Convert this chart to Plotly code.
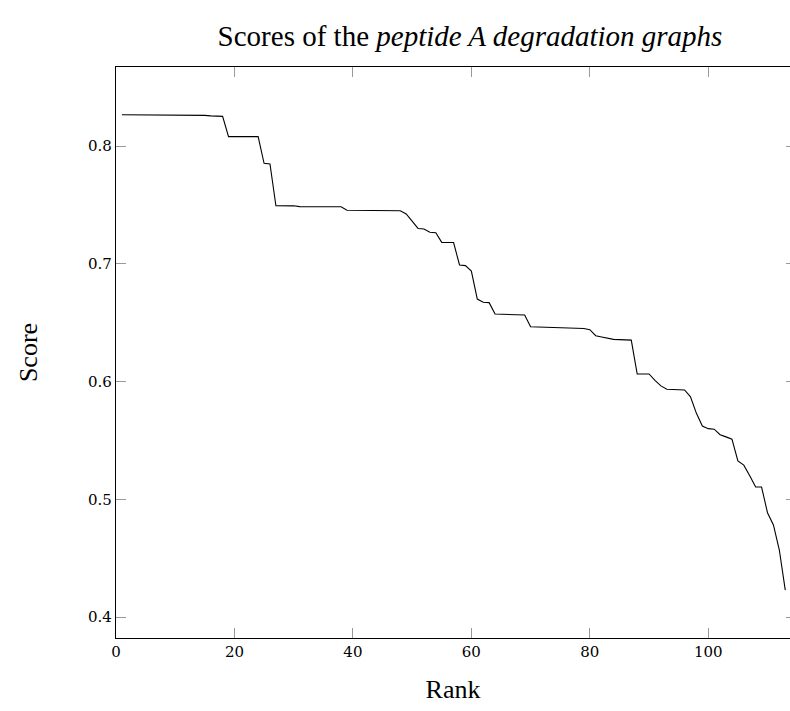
import plotly.graph_objects as go

rank = list(range(1, 114))
score = [
    0.8266, 0.8266, 0.8266, 0.8266, 0.8266, 0.8266, 0.8266, 0.8266, 0.8266, 0.8266,
    0.8266, 0.8266, 0.8264, 0.8262, 0.8260, 0.8256, 0.8253, 0.8252, 0.8080, 0.8080,
    0.8080, 0.8080, 0.8080, 0.8080, 0.7853, 0.7847, 0.7493, 0.7493, 0.7493, 0.7492,
    0.7485, 0.7485, 0.7485, 0.7485, 0.7485, 0.7485, 0.7485, 0.7484, 0.7455, 0.7454,
    0.7454, 0.7454, 0.7454, 0.7454, 0.7454, 0.7454, 0.7453, 0.7450, 0.7423, 0.7360,
    0.7300, 0.7295, 0.7267, 0.7264, 0.7182, 0.7181, 0.7180, 0.6990, 0.6984, 0.6938,
    0.6700, 0.6673, 0.6670, 0.6573, 0.6572, 0.6570, 0.6568, 0.6566, 0.6565, 0.6465,
    0.6464, 0.6463, 0.6462, 0.6461, 0.6460, 0.6459, 0.6458, 0.6457, 0.6450, 0.6440,
    0.6389, 0.6378, 0.6368, 0.6358, 0.6356, 0.6354, 0.6352, 0.6064, 0.6064, 0.6064,
    0.6010, 0.5963, 0.5934, 0.5932, 0.5930, 0.5928, 0.5870, 0.5730, 0.5622, 0.5600,
    0.5595, 0.5548, 0.5530, 0.5510, 0.5325, 0.5290, 0.5200, 0.5105, 0.5104, 0.4886,
    0.4782, 0.4569, 0.4229,
]

x_ticks = [0, 20, 40, 60, 80, 100]
y_ticks = [0.4, 0.5, 0.6, 0.7, 0.8]

title_text = "Scores of the <i>peptide A degradation graphs</i>"
x_title = "Rank"
y_title = "Score"

serif = "Liberation Serif"
tickfont = dict(family="DejaVu Serif", size=15, color="black")

fig = go.Figure()
fig.add_trace(go.Scatter(x=rank, y=score, mode="lines",
                         line=dict(color="black", width=1.1), showlegend=False))
# empty helper trace so the right-hand tick axis is drawn
fig.add_trace(go.Scatter(x=[], y=[], yaxis="y2", showlegend=False, hoverinfo="skip"))

fig.update_layout(
    width=790, height=711,
    margin=dict(l=116, r=0, t=67, b=73),
    paper_bgcolor="white", plot_bgcolor="white",
    title=dict(text=title_text, x=470/790, xanchor="center", xref="container",
               y=1 - 36/711, yanchor="middle", font=dict(family=serif, size=29, color="black")),
    xaxis=dict(range=[0, 113.8], tickvals=x_ticks, ticks="inside", ticklen=10,
               tickcolor="#999999", tickwidth=1, showline=True, linecolor="black",
               linewidth=1.2, mirror="ticks", showgrid=False, zeroline=False,
               tickfont=tickfont,
               title=dict(text=x_title, font=dict(family=serif, size=26, color="black"),
                          standoff=19)),
    yaxis=dict(range=[0.3822, 0.8671], tickvals=y_ticks, tickformat=".1f",
               ticks="inside", ticklen=10, tickcolor="#999999", tickwidth=1,
               showline=True, linecolor="black", linewidth=1.2, mirror=False,
               showgrid=False, zeroline=False, tickfont=tickfont,
               title=dict(text=y_title, font=dict(family=serif, size=26, color="black"),
                          standoff=42)),
    yaxis2=dict(overlaying="y", side="right", matches="y", tickvals=y_ticks,
                ticks="inside", ticklen=4, tickcolor="#999999", tickwidth=1,
                showticklabels=False, showline=False, showgrid=False, zeroline=False),
)

fig.write_html("out.html")
